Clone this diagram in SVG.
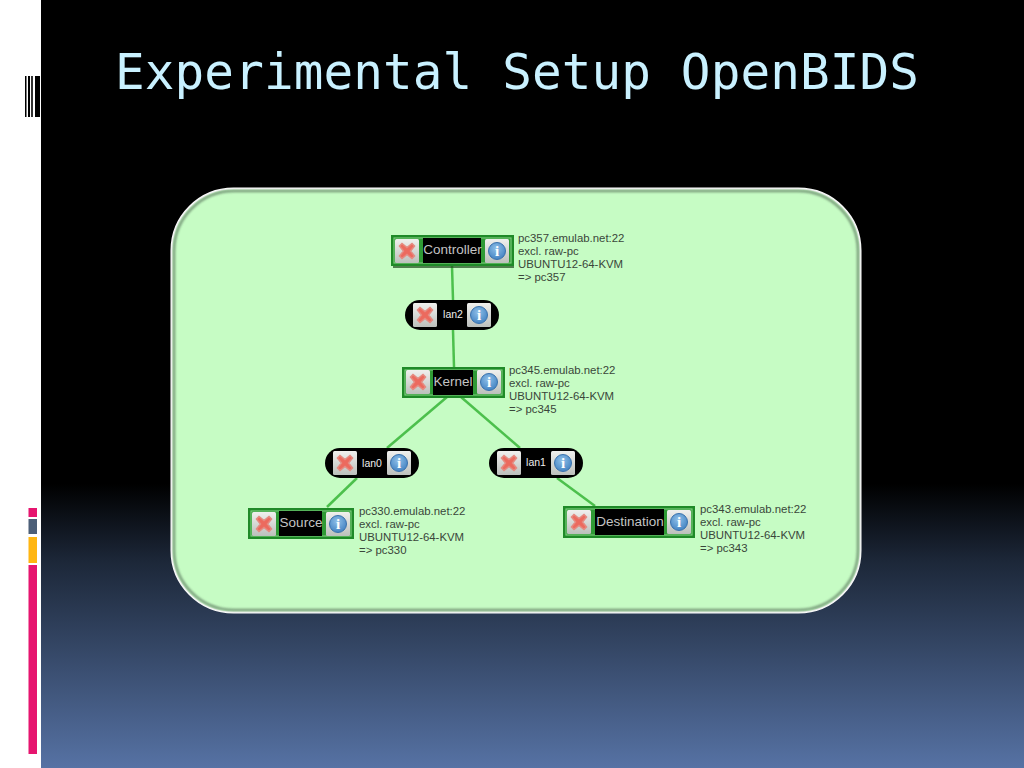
<svg xmlns="http://www.w3.org/2000/svg" xmlns:xlink="http://www.w3.org/1999/xlink" width="1024" height="768" viewBox="0 0 1024 768">
<style>
.title{font:49.300px "DejaVu Sans Mono",monospace;fill:#c9f1ff}
.info{font:11.400px "Liberation Sans",Arial,sans-serif;fill:#3a463a}
.name{font:13.500px "Liberation Sans",Arial,sans-serif;fill:#c4c4c4;text-anchor:middle}
.lan{font:10.500px "Liberation Sans",Arial,sans-serif;fill:#eee;text-anchor:middle}
.box{fill:#2f9a35;stroke:#1f8a28;stroke-width:2}
.inner{fill:none;stroke:#8fd892;stroke-width:.8}
.blk{fill:#000}
.conn line{stroke:#4cc04c;stroke-width:2.500;fill:none}
.i{font:bold 15px "Liberation Serif",serif;fill:#fff;text-anchor:middle}
</style>
<defs>
<linearGradient id="bg" x1="0" y1="0" x2="0" y2="1">
<stop offset="0" stop-color="#000"/><stop offset="0.63" stop-color="#000"/><stop offset="0.73" stop-color="#1c2738"/><stop offset="1" stop-color="#5672a4"/>
</linearGradient>
<linearGradient id="btn" x1="0" y1="0" x2="0" y2="1">
<stop offset="0" stop-color="#f0f0ee"/><stop offset="1" stop-color="#bcc0bc"/>
</linearGradient>
<radialGradient id="blue" cx="0.45" cy="0.35" r="0.7">
<stop offset="0" stop-color="#8fc0e8"/><stop offset="1" stop-color="#3f7fc0"/>
</radialGradient>
<filter id="soft" x="-5%" y="-5%" width="110%" height="110%"><feGaussianBlur stdDeviation="1.200"/></filter>
<g id="btnX">
<rect x="0" y="0" width="24" height="24" rx="1.500" fill="url(#btn)"/>
<path d="M4.500 7L7 4.500L12 8.500L17 4.500L19.500 7L15.500 12L19.500 17L17 19.500L12 15.500L7 19.500L4.500 17L8.500 12Z" fill="#ec6a5e" stroke="#e58a80" stroke-width="1.500"/>
</g>
<g id="btnI">
<rect x="0" y="0" width="24" height="24" rx="1.500" fill="url(#btn)"/>
<circle cx="12" cy="12" r="8.500" fill="url(#blue)" stroke="#3a72ad" stroke-width="1"/>
<text class="i" x="12" y="17">i</text>
</g>
</defs>
<rect width="1024" height="768" fill="#fff"/>
<rect x="41" y="0" width="983" height="768" fill="url(#bg)"/>
<g id="marks">
<rect x="25" y="76" width="1.500" height="41" fill="#000"/>
<rect x="28" y="76" width="2" height="41" fill="#000"/>
<rect x="31" y="76" width="2" height="41" fill="#333"/>
<rect x="35" y="76" width="5" height="41" fill="#000"/>
<rect x="28.500" y="508" width="8.500" height="9" fill="#e6156f"/>
<rect x="28.500" y="519" width="8.500" height="15" fill="#4d5f78"/>
<rect x="28.500" y="537" width="8.500" height="26" fill="#ffb612"/>
<rect x="28.500" y="565" width="8.500" height="189" fill="#e6156f"/>
</g>
<text class="title" x="115" y="89" textLength="804" lengthAdjust="spacing">Experimental Setup OpenBIDS</text>
<g id="panel">
<rect x="171.500" y="188.500" width="689" height="424" rx="62" fill="#c6fcc4" stroke="#fff" stroke-width="2"/>
<rect x="174" y="191" width="684" height="419" rx="60" fill="none" stroke="#5d7a60" stroke-width="2.500" opacity=".75" filter="url(#soft)"/>
</g>
<g class="conn" id="connectors">
<line x1="452" y1="266" x2="453" y2="300"/>
<line x1="453" y1="330" x2="454" y2="367"/>
<line x1="447" y1="397" x2="387" y2="448"/>
<line x1="357" y1="478" x2="327" y2="507"/>
<line x1="461" y1="397" x2="520" y2="448"/>
<line x1="557" y1="478" x2="595" y2="506"/>
</g>
<g id="controller">
<rect x="393" y="238" width="121" height="30" fill="#1d4a1d" opacity=".7"/>
<rect class="box" x="392" y="236" width="121" height="29"/>
<rect class="inner" x="394" y="238" width="117" height="25"/>
<rect class="blk" x="423" y="238" width="58" height="25"/>
<use xlink:href="#btnX" x="395" y="239"/><use xlink:href="#btnI" x="485" y="239"/>
<text class="name" x="452.500" y="254">Controller</text>
<text class="info"><tspan x="518" y="242">pc357.emulab.net:22</tspan><tspan x="518" y="255">excl. raw-pc</tspan><tspan x="518" y="268">UBUNTU12-64-KVM</tspan><tspan x="518" y="281">=&gt; pc357</tspan></text>
</g>
<g id="lan2">
<rect class="blk" x="405" y="300" width="94" height="30" rx="15"/>
<use xlink:href="#btnX" x="413" y="303"/><use xlink:href="#btnI" x="467" y="303"/>
<text class="lan" x="453" y="318">lan2</text>
</g>
<g id="kernel">
<rect class="box" x="403" y="368" width="101" height="29"/>
<rect class="inner" x="405" y="370" width="97" height="25"/>
<rect class="blk" x="433" y="370" width="40" height="25"/>
<use xlink:href="#btnX" x="406" y="370"/><use xlink:href="#btnI" x="477" y="370"/>
<text class="name" x="453" y="386">Kernel</text>
<text class="info"><tspan x="509" y="374">pc345.emulab.net:22</tspan><tspan x="509" y="387">excl. raw-pc</tspan><tspan x="509" y="400">UBUNTU12-64-KVM</tspan><tspan x="509" y="413">=&gt; pc345</tspan></text>
</g>
<g id="lan0">
<rect class="blk" x="325" y="448" width="94" height="30" rx="15"/>
<use xlink:href="#btnX" x="333" y="451"/><use xlink:href="#btnI" x="387" y="451"/>
<text class="lan" x="372" y="467">lan0</text>
</g>
<g id="lan1">
<rect class="blk" x="489" y="448" width="94" height="30" rx="15"/>
<use xlink:href="#btnX" x="497" y="451"/><use xlink:href="#btnI" x="551" y="451"/>
<text class="lan" x="536" y="466">lan1</text>
</g>
<g id="source">
<rect class="box" x="249" y="509" width="104" height="29"/>
<rect class="inner" x="251" y="511" width="100" height="25"/>
<rect class="blk" x="279" y="511" width="43" height="25"/>
<use xlink:href="#btnX" x="252" y="512"/><use xlink:href="#btnI" x="326" y="512"/>
<text class="name" x="301" y="527">Source</text>
<text class="info"><tspan x="359" y="515">pc330.emulab.net:22</tspan><tspan x="359" y="528">excl. raw-pc</tspan><tspan x="359" y="541">UBUNTU12-64-KVM</tspan><tspan x="359" y="554">=&gt; pc330</tspan></text>
</g>
<g id="destination">
<rect class="box" x="564" y="507" width="130" height="30"/>
<rect class="inner" x="566" y="509" width="126" height="26"/>
<rect class="blk" x="595" y="509" width="69" height="26"/>
<use xlink:href="#btnX" x="567" y="510"/><use xlink:href="#btnI" x="667" y="510"/>
<text class="name" x="630" y="526">Destination</text>
<text class="info"><tspan x="700" y="513">pc343.emulab.net:22</tspan><tspan x="700" y="526">excl. raw-pc</tspan><tspan x="700" y="539">UBUNTU12-64-KVM</tspan><tspan x="700" y="552">=&gt; pc343</tspan></text>
</g>
</svg>
